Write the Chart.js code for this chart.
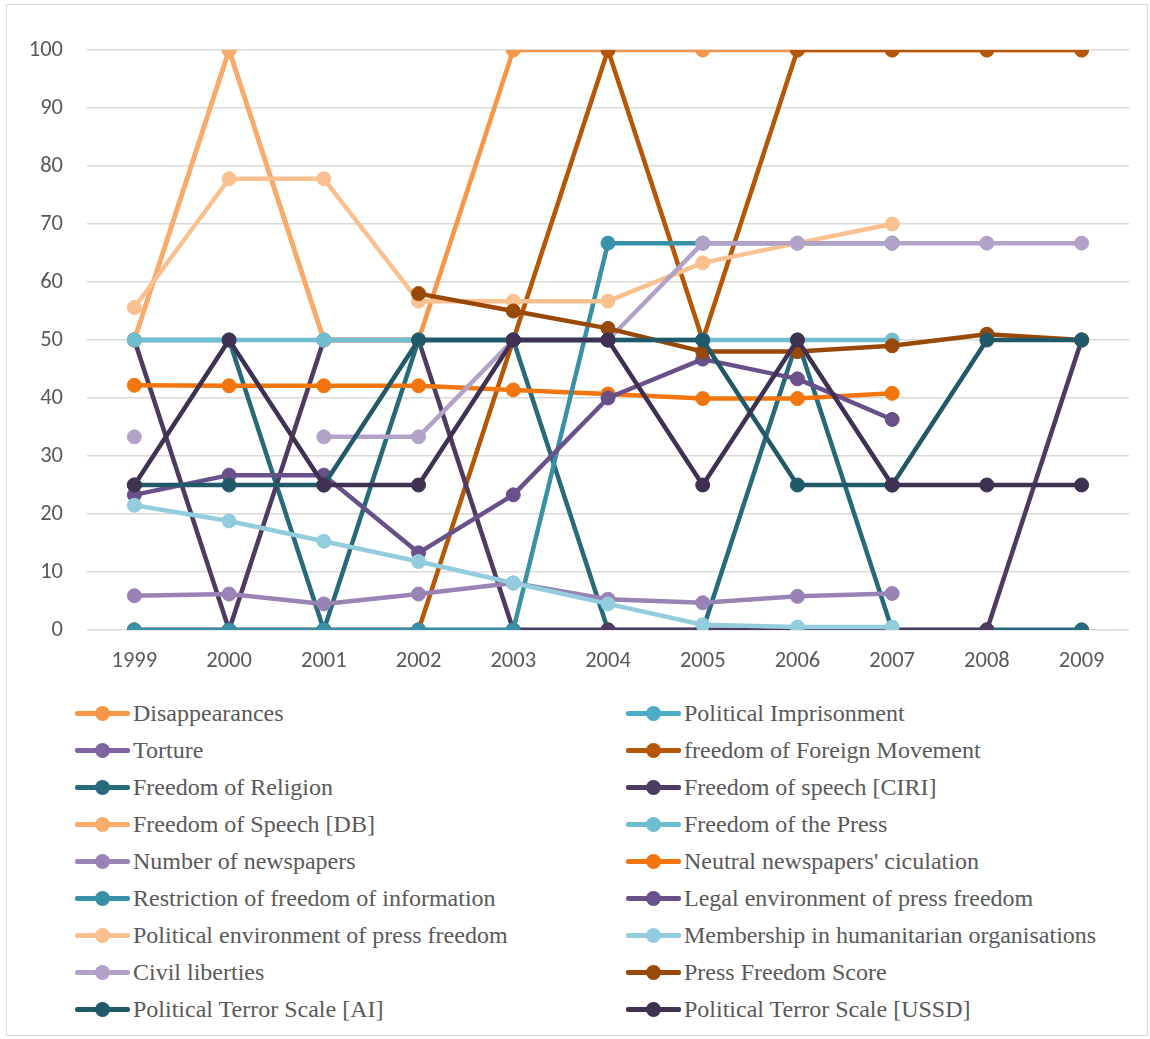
<!DOCTYPE html>
<html>
<head>
<meta charset="utf-8">
<script src="https://cdn.jsdelivr.net/npm/chart.js@4"></script>
<style>
  body { margin: 0; background: #fff; }
  #frame { position: absolute; left: 6px; top: 4px; width: 1140px; height: 1030px; border: 1px solid #D9D9D9; }
  #wrap { position: absolute; left: 0; top: 0; width: 1150px; height: 690px; }
  .item { position: absolute; height: 36px; display: flex; align-items: center; font-family: "Liberation Serif", "Times New Roman", serif; font-size: 24px; color: #595959; white-space: nowrap; }
  .swatch { position: relative; width: 55px; height: 36px; margin-right: 3px; }
  .swatch .ln { position: absolute; left: 0; right: 0; top: 16px; height: 5px; border-radius: 2px; }
  .swatch .dot { position: absolute; left: 20px; top: 11px; width: 15px; height: 15px; border-radius: 50%; }
</style>
</head>
<body>
<div id="frame"></div>
<div id="wrap"><canvas id="chart" width="1150" height="690"></canvas></div>
<div id="legend"></div>
<script>
const years = ['1999', '2000', '2001', '2002', '2003', '2004', '2005', '2006', '2007', '2008', '2009'];

const disappearances = [50, 100, 50, 50, 100, 100, 100, 100, 100, 100, 100];
const politicalImprisonment = [0, 0, 0, 0, 0, 0, 0, 0, 0, 0, 0];
const torture = [0, 0, 0, 0, 0, 0, 0, 0, 0, 0, 0];
const foreignMovement = [0, 0, 0, 0, 50, 100, 50, 100, 100, 100, 100];
const religion = [50, 50, 0, 50, 50, 0, 0, 50, 0, 0, 0];
const speechCiri = [50, 0, 50, 50, 0, 0, 0, 0, 0, 0, 50];
const speechDb = [50, 100, 50, 50, null, null, null, null, null, null, null];
const pressFreedom = [50, 50, 50, 50, 50, 50, 50, 50, 50, null, null];
const newspapers = [5.9, 6.2, 4.5, 6.2, 8.1, 5.3, 4.7, 5.8, 6.3, null, null];
const neutralCirculation = [42.2, 42.1, 42.1, 42.1, 41.4, 40.7, 39.9, 39.9, 40.8, null, null];
const infoRestriction = [0, 0, 0, 0, 0, 66.7, 66.7, 66.7, 66.7, null, null];
const legalEnv = [23.3, 26.7, 26.7, 13.3, 23.3, 40, 46.7, 43.3, 36.3, null, null];
const politicalEnv = [55.6, 77.8, 77.8, 56.7, 56.7, 56.7, 63.3, 66.7, 70, null, null];
const humanitarian = [21.5, 18.8, 15.3, 11.8, 8.1, 4.5, 0.9, 0.5, 0.5, null, null];
const civilLiberties = [33.3, null, 33.3, 33.3, 50, 50, 66.7, 66.7, 66.7, 66.7, 66.7];
const pressFreedomScore = [null, null, null, 58, 55, 52, 48, 48, 49, 51, 50];
const terrorAi = [25, 25, 25, 50, 50, 50, 50, 25, 25, 50, 50];
const terrorUssd = [25, 50, 25, 25, 50, 50, 25, 50, 25, 25, 25];

const series = [
  ['Disappearances', disappearances, '#F79646'],
  ['Political Imprisonment', politicalImprisonment, '#4BACC6'],
  ['Torture', torture, '#8064A2'],
  ['freedom of Foreign Movement', foreignMovement, '#B65708'],
  ['Freedom of Religion', religion, '#276A7C'],
  ['Freedom of speech [CIRI]', speechCiri, '#4D3B62'],
  ['Freedom of Speech [DB]', speechDb, '#F9AB6B'],
  ['Freedom of the Press', pressFreedom, '#6FBDD1'],
  ['Number of newspapers', newspapers, '#9983B5'],
  ["Neutral newspapers' ciculation", neutralCirculation, '#F2760D'],
  ['Restriction of freedom of information', infoRestriction, '#3891A7'],
  ['Legal environment of press freedom', legalEnv, '#68508A'],
  ['Political environment of press freedom', politicalEnv, '#FAC090'],
  ['Membership in humanitarian organisations', humanitarian, '#93CDDD'],
  ['Civil liberties', civilLiberties, '#B3A2C7'],
  ['Press Freedom Score', pressFreedomScore, '#984807'],
  ['Political Terror Scale [AI]', terrorAi, '#215968'],
  ['Political Terror Scale [USSD]', terrorUssd, '#3F3151']
];

// later series are painted on top, so the first one gets the highest order
const datasets = series.map(([label, data, color], i) => ({
  label,
  data,
  borderColor: color,
  backgroundColor: color,
  pointBackgroundColor: color,
  pointBorderColor: color,
  borderWidth: 4.5,
  pointRadius: 7,
  pointHoverRadius: 7,
  pointBorderWidth: 1,
  borderJoinStyle: 'round',
  tension: 0,
  spanGaps: false,
  order: series.length - i
}));

const tickFont = { family: "Carlito, Calibri, 'Open Sans', sans-serif", size: 22.5 };

new Chart(document.getElementById('chart').getContext('2d'), {
  type: 'line',
  data: { labels: years, datasets },
  options: {
    responsive: false,
    animation: false,
    layout: { padding: { top: 50, right: 21, left: 0, bottom: 0 } },
    plugins: { legend: { display: false }, tooltip: { enabled: false } },
    scales: {
      x: {
        offset: true,
        grid: { display: false, drawTicks: false },
        border: { display: false },
        ticks: { color: '#595959', font: tickFont, padding: 18, maxRotation: 0 },
        afterFit: (scale) => { scale.height = 60; }
      },
      y: {
        min: 0,
        max: 100,
        grid: { color: '#D9D9D9', lineWidth: 1.5, drawTicks: false },
        border: { display: false },
        ticks: { stepSize: 10, color: '#595959', font: tickFont, padding: 24 },
        afterFit: (scale) => { scale.width = 87; }
      }
    }
  }
});

// two-column legend, filled row by row
const legendEl = document.getElementById('legend');
series.forEach(([label, , color], i) => {
  const row = Math.floor(i / 2);
  const item = document.createElement('div');
  item.className = 'item';
  item.style.left = (i % 2 === 0 ? 75 : 626) + 'px';
  item.style.top = (713 + row * 37 - 18) + 'px';
  item.innerHTML = `<span class="swatch"><span class="ln" style="background:${color}"></span><span class="dot" style="background:${color}"></span></span>`;
  const text = document.createElement('span');
  text.textContent = label;
  item.appendChild(text);
  legendEl.appendChild(item);
});
</script>
</body>
</html>
